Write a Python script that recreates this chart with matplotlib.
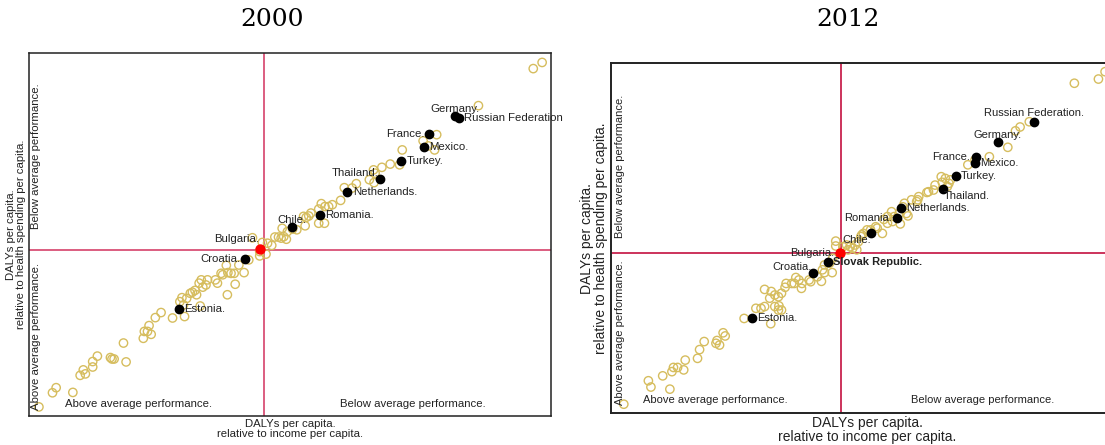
import matplotlib.pyplot as plt

plt.rcParams['font.family'] = ['Liberation Sans', 'DejaVu Sans']

# ---- 2000 ----
x00 = [96.6, 98.3, 86.1, 78.1, 75.5, 76.5, 77.7, 71.5, 71.0, 69.2, 67.6, 66.0, 66.3, 65.2,
       66.1, 62.7, 61.9, 60.4, 59.7, 58.1, 57.4, 56.7, 56.0, 55.5, 54.0, 53.6, 53.1, 52.6,
       52.9, 55.5, 56.6, 51.3, 50.5, 49.5, 48.5, 47.8, 47.1, 48.3, 49.3, 48.8, 46.5, 45.7,
       44.7, 42.8, 45.4, 44.2, 44.2, 42.1, 40.2, 41.2, 39.3, 38.7, 37.8, 38.1, 37.1, 36.8,
       36.1, 35.7, 34.2, 33.9, 33.3, 33.0, 32.6, 31.8, 31.3, 32.1, 30.9, 39.5, 38.0, 30.2,
       29.3, 28.9, 29.6, 32.8, 29.8, 27.5, 25.3, 24.2, 23.0, 22.1, 22.7, 23.4, 21.9, 18.1,
       18.6, 13.1, 12.2, 12.2, 15.6, 15.9, 16.3, 10.4, 10.8, 9.8, 5.2, 4.5, 8.4, 1.9]
y00 = [95.7, 97.4, 85.5, 77.5, 75.8, 74.4, 73.3, 73.3, 69.2, 69.4, 68.5, 67.8, 66.9, 65.1,
       64.3, 64.0, 62.8, 62.9, 59.4, 58.2, 57.7, 57.7, 58.5, 57.0, 55.9, 55.1, 54.7, 55.0,
       52.4, 53.1, 53.1, 51.3, 51.5, 50.8, 51.7, 49.3, 49.3, 49.0, 48.7, 49.4, 47.0, 47.6,
       47.8, 49.1, 44.6, 44.1, 45.3, 43.0, 41.6, 39.5, 39.3, 39.3, 41.5, 39.5, 38.9, 39.3,
       36.6, 37.5, 37.5, 36.1, 35.5, 37.5, 36.6, 34.6, 34.1, 33.4, 33.8, 36.3, 33.4, 32.4,
       32.6, 31.5, 30.6, 30.3, 27.4, 27.0, 28.5, 27.1, 24.9, 23.3, 23.3, 22.5, 21.4, 20.1,
       14.9, 16.5, 15.0, 13.5, 16.1, 15.7, 15.7, 12.7, 11.6, 11.2, 7.8, 6.4, 6.5, 2.5]

names00 = ['Germany.', 'Russian Federation', 'France.', 'Mexico.', 'Turkey.', 'Thailand.',
           'Netherlands.', 'Romania.', 'Chile.', 'Croatia.', 'Estonia.']
hx00 = [81.6, 82.3, 76.6, 75.6, 71.2, 67.2, 61.0, 55.7, 50.3, 41.4, 28.7]
hy00 = [82.7, 82.2, 77.6, 74.1, 70.2, 65.3, 61.6, 55.3, 52.0, 43.3, 29.5]
off00 = [(0, 5, 'center'), (4, 0, 'left'), (-3, 0, 'right'), (4, 0, 'left'), (4, 0, 'left'),
         (-1, 4, 'right'), (4, 0, 'left'), (4, 0, 'left'), (0, 5, 'center'), (-3, 0, 'right'),
         (4, 0, 'left')]
ref00 = ('Bulgaria.', 44.3, 46.0)

# ---- 2012 ----
x12 = [90.5, 95.2, 96.5, 81.7, 79.9, 79.0, 77.5, 73.9, 69.7, 71.1, 66.3, 66.0, 65.3, 64.5,
       65.7, 64.7, 63.3, 63.0, 62.0, 61.7, 60.1, 59.9, 58.7, 59.7, 57.3, 57.0, 57.7, 58.0,
       56.3, 54.8, 55.3, 54.0, 53.3, 55.0, 54.0, 56.5, 53.0, 52.0, 51.7, 50.7, 50.0, 49.3,
       48.8, 49.0, 48.3, 47.7, 47.2, 48.0, 46.7, 46.0, 45.3, 43.9, 43.9, 46.3, 43.3, 42.7,
       41.7, 41.3, 43.2, 41.1, 41.7, 40.3, 39.0, 38.7, 37.3, 36.7, 36.1, 35.8, 35.3, 34.2,
       34.0, 37.2, 33.3, 32.7, 32.0, 31.3, 30.0, 31.0, 32.0, 32.8, 33.3, 32.7, 30.0, 29.3,
       28.3, 26.0, 31.2, 22.3, 21.9, 21.2, 20.7, 20.5, 18.2, 17.3, 16.9, 14.5, 14.2, 13.0,
       12.2, 11.9, 10.1, 7.3, 7.8, 11.5, 2.5]
y12 = [94.3, 95.5, 97.6, 83.3, 81.8, 80.7, 76.0, 73.3, 71.0, 72.4, 66.7, 65.7, 67.1, 67.6,
       64.8, 66.0, 65.2, 63.8, 63.3, 63.1, 61.9, 61.0, 61.0, 60.5, 60.0, 59.0, 57.1, 56.4,
       57.1, 57.6, 56.2, 56.2, 55.4, 54.8, 54.3, 54.1, 51.4, 52.9, 53.3, 52.4, 52.4, 51.4,
       50.5, 51.0, 49.0, 48.1, 47.1, 46.7, 47.6, 48.1, 47.6, 49.2, 47.8, 46.7, 44.3, 42.9,
       42.4, 41.0, 40.2, 37.7, 40.2, 39.0, 37.6, 38.1, 37.1, 38.1, 38.8, 37.1, 37.1, 37.1,
       36.0, 35.7, 34.3, 33.3, 33.8, 34.8, 35.4, 32.9, 30.5, 30.7, 29.5, 29.5, 30.5, 30.0,
       30.0, 27.1, 25.6, 22.1, 23.0, 19.5, 20.8, 20.0, 20.5, 18.2, 15.7, 15.2, 12.4, 13.1,
       13.1, 11.9, 10.7, 9.3, 7.5, 6.9, 2.6]

names12 = ['Russian Federation.', 'Germany.', 'France.', 'Mexico.', 'Turkey.', 'Thailand.',
           'Netherlands.', 'Romania.', 'Chile.', 'Slovak Republic.', 'Croatia.', 'Estonia.']
hx12 = [82.7, 75.5, 71.2, 71.1, 67.3, 64.8, 56.6, 55.9, 50.7, 42.3, 39.5, 27.5]
hy12 = [83.1, 77.5, 73.3, 71.6, 67.9, 64.1, 58.8, 55.9, 51.5, 43.1, 40.2, 27.3]
off12 = [(0, 6.5, 'center'), (0, 5, 'center'), (-4, 0, 'right'), (4, -0.5, 'left'),
         (4, 0, 'left'), (1, -5, 'left'), (4, 0, 'left'), (-4, 0, 'right'), (0, -5, 'right'),
         (4, 0, 'left'), (-1, 4, 'right'), (4, 0, 'left')]
ref12 = ('Bulgaria.', 44.7, 45.9)

gold = '#D6BD5E'
W, H = 1105, 445
fig = plt.figure(figsize=(W / 100, H / 100), dpi=100)

ax1 = fig.add_axes([29 / W, 29 / H, 522 / W, 363 / H])
ax2 = fig.add_axes([611 / W, 31.7 / H, 512 / W, 350 / H])


def panel(ax, xs, ys, names, hx, hy, offs, ref, ref_off, vx, hy0, lcol, fs, lab_fs, q, spine_w):
    ax.set_xlim(0, 100)
    ax.set_ylim(0, 100)
    ax.axvline(vx, color=lcol, lw=1.2, zorder=1)
    ax.axhline(hy0, color=lcol, lw=1.2, zorder=1)
    ax.scatter(xs, ys, s=36, facecolors='none', edgecolors=gold, linewidths=1.0, zorder=2)
    ax.scatter(hx, hy, s=36, color='black', zorder=3)
    ax.scatter([ref[1]], [ref[2]], s=42, color='red', zorder=4)
    for i, n in enumerate(names):
        dx, dy, ha = offs[i]
        w = 'bold' if n.startswith('Slovak') else 'normal'
        ax.annotate(n, (hx[i], hy[i]), xytext=(dx, dy), textcoords='offset points',
                    ha=ha, va='center', fontsize=fs, color='#222222', weight=w,
                    annotation_clip=False, zorder=5)
    ax.annotate(ref[0], (ref[1], ref[2]), xytext=ref_off, textcoords='offset points',
                ha='right', va='center', fontsize=fs, color='#222222')
    qx, qy_hi, qy_lo, bx1, bx2, by, qfs = q
    ax.text(qx, qy_hi, 'Below average performance.', rotation=90, ha='center', va='center',
            fontsize=qfs, color='#222222')
    ax.text(qx, qy_lo, 'Above average performance.', rotation=90, ha='center', va='center',
            fontsize=qfs, color='#222222')
    ax.text(bx1, by, 'Above average performance.', ha='center', va='center', fontsize=qfs,
            color='#222222')
    ax.text(bx2, by, 'Below average performance.', ha='center', va='center', fontsize=qfs,
            color='#222222')
    ax.set_xticks([])
    ax.set_yticks([])
    for s in ax.spines.values():
        s.set_linewidth(spine_w)
        s.set_color('#222222')
    ax.set_xlabel('DALYs per capita.\nrelative to income per capita.', fontsize=lab_fs,
                  labelpad=2, color='#222222', linespacing=1.0)
    ax.set_ylabel('DALYs per capita.\nrelative to health spending per capita.', fontsize=lab_fs,
                  labelpad=2, color='#222222', linespacing=1.0)


panel(ax1, x00, y00, names00, hx00, hy00, off00, ref00, (-1, 7), 45.0, 45.8, '#D6426B', 8.2, 8.2,
      (1.4, 71.5, 21.9, 21.0, 73.5, 3.3, 8.2), 1.1)
panel(ax2, x12, y12, names12, hx12, hy12, off12, ref12, (-4, 0), 45.0, 45.9, '#C41040', 8.0, 10,
      (1.7, 70.5, 22.9, 20.3, 72.5, 3.8, 8.0), 1.4)

fig.text(272 / W, 1 - 20 / H, '2000', ha='center', va='center', fontsize=18,
         family='DejaVu Serif')
fig.text(848 / W, 1 - 20 / H, '2012', ha='center', va='center', fontsize=18,
         family='DejaVu Serif')

fig.savefig('out.png', dpi=100)
